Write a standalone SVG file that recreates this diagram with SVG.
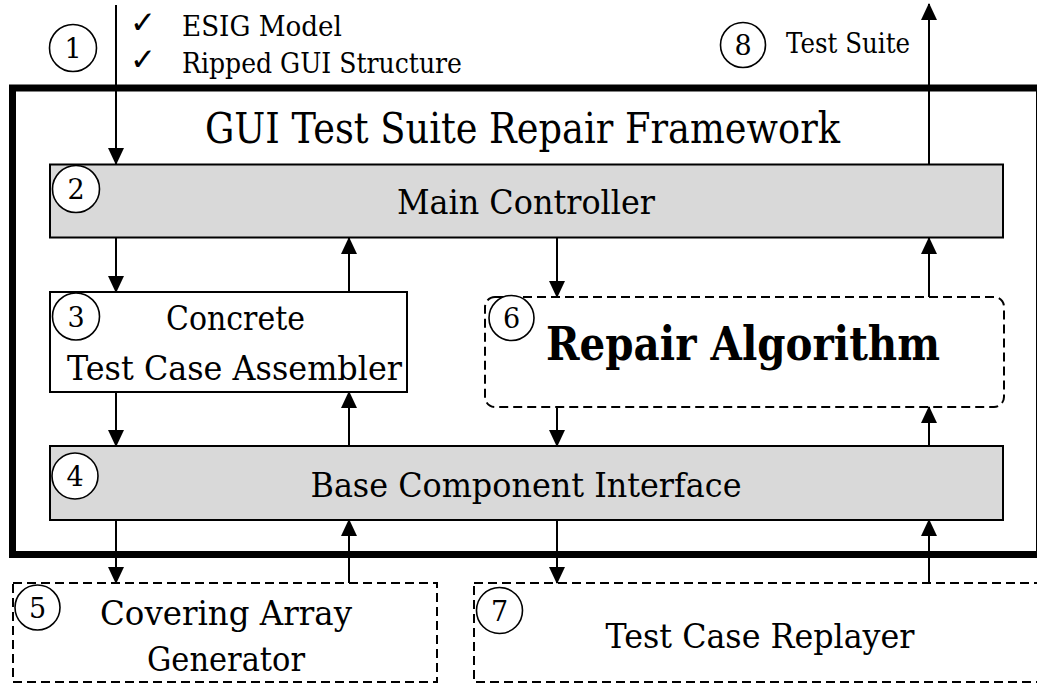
<svg xmlns="http://www.w3.org/2000/svg" width="1037" height="683" viewBox="0 0 1037 683">
<style>
text{font-family:"DejaVu Serif","Liberation Serif",serif}
.lbl{font-size:34px;text-anchor:middle}
.num{font-size:27px;text-anchor:middle}
.sm{font-size:28px}
.chk{font-family:"DejaVu Sans",sans-serif;font-size:31px}
.gray{fill:#d9d9d9;stroke:#000;stroke-width:2}
.plain{fill:#fff;stroke:#000;stroke-width:2}
.dash{fill:none;stroke:#000;stroke-width:2;stroke-dasharray:9 5}
.circ{fill:#fff;stroke:#000;stroke-width:1.6}
.conn line{stroke:#000;stroke-width:2;marker-end:url(#arr)}
</style>
<defs>
<marker id="arr" viewBox="0 0 17 16" refX="16" refY="8" markerWidth="17" markerHeight="16" markerUnits="userSpaceOnUse" orient="auto">
<path d="M0,0 L17,8 L0,16 Z" fill="#000"/>
</marker>
</defs>
<rect width="1037" height="683" fill="#fff"/>

<g id="frame">
<rect x="12.5" y="88" width="1027" height="466.5" fill="none" stroke="#000" stroke-width="7"/>
<text x="522.5" y="143" font-size="42" text-anchor="middle" textLength="635" lengthAdjust="spacingAndGlyphs">GUI Test Suite Repair Framework</text>
</g>

<g id="input">
<circle class="circ" cx="73" cy="48" r="23.5"/>
<text class="num" x="73" y="58">1</text>
<text class="chk" x="130" y="33">✓</text>
<text class="sm" x="182" y="36" textLength="160" lengthAdjust="spacingAndGlyphs">ESIG Model</text>
<text class="chk" x="130" y="70">✓</text>
<text class="sm" x="182" y="73" textLength="280" lengthAdjust="spacingAndGlyphs">Ripped GUI Structure</text>
</g>

<g id="output">
<circle class="circ" cx="743" cy="45" r="22.5"/>
<text class="num" x="743" y="55">8</text>
<text class="sm" x="786" y="53" textLength="124" lengthAdjust="spacingAndGlyphs">Test Suite</text>
</g>

<g id="main-controller">
<rect class="gray" x="50" y="164.5" width="953" height="73"/>
<circle class="circ" cx="76" cy="189" r="23.5"/>
<text class="num" x="76" y="199">2</text>
<text class="lbl" x="526" y="214" textLength="258" lengthAdjust="spacingAndGlyphs">Main Controller</text>
</g>

<g id="concrete-assembler">
<rect class="plain" x="50" y="292" width="357" height="100"/>
<circle class="circ" cx="76" cy="316.5" r="23.5"/>
<text class="num" x="76" y="326.5">3</text>
<text class="lbl" x="235.5" y="330" textLength="139" lengthAdjust="spacingAndGlyphs">Concrete</text>
<text class="lbl" x="234.5" y="380" textLength="335" lengthAdjust="spacingAndGlyphs">Test Case Assembler</text>
</g>

<g id="repair-algorithm">
<rect class="dash" x="485" y="297" width="519" height="110" rx="10" ry="10"/>
<circle class="circ" cx="511.5" cy="318" r="22.5"/>
<text class="num" x="511.5" y="328">6</text>
<text x="743" y="360" font-size="46" font-weight="bold" text-anchor="middle" textLength="394" lengthAdjust="spacingAndGlyphs">Repair Algorithm</text>
</g>

<g id="base-component">
<rect class="gray" x="50" y="446" width="953" height="74"/>
<circle class="circ" cx="75" cy="476" r="23"/>
<text class="num" x="75" y="486">4</text>
<text class="lbl" x="526" y="497" textLength="431" lengthAdjust="spacingAndGlyphs">Base Component Interface</text>
</g>

<g id="covering-array">
<rect class="dash" x="13" y="583" width="424" height="99"/>
<circle class="circ" cx="37.5" cy="607.5" r="22.5"/>
<text class="num" x="37.5" y="617.5">5</text>
<text class="lbl" x="226" y="625" textLength="252" lengthAdjust="spacingAndGlyphs">Covering Array</text>
<text class="lbl" x="226" y="671" textLength="158" lengthAdjust="spacingAndGlyphs">Generator</text>
</g>

<g id="replayer">
<rect class="dash" x="474" y="583" width="600" height="99"/>
<circle class="circ" cx="499.5" cy="610.5" r="23"/>
<text class="num" x="499.5" y="620.5">7</text>
<text class="lbl" x="760" y="648" textLength="309" lengthAdjust="spacingAndGlyphs">Test Case Replayer</text>
</g>

<g id="connectors" class="conn">
<line x1="116" y1="5" x2="116" y2="164"/>
<line x1="929" y1="164" x2="929" y2="4"/>
<line x1="116" y1="238" x2="116" y2="292"/>
<line x1="349" y1="292" x2="349" y2="238"/>
<line x1="557" y1="238" x2="557" y2="297"/>
<line x1="929" y1="297" x2="929" y2="238"/>
<line x1="116" y1="392" x2="116" y2="446"/>
<line x1="349" y1="446" x2="349" y2="392"/>
<line x1="557" y1="407" x2="557" y2="446"/>
<line x1="929" y1="446" x2="929" y2="407"/>
<line x1="116" y1="520" x2="116" y2="583"/>
<line x1="349" y1="583" x2="349" y2="520"/>
<line x1="557" y1="520" x2="557" y2="583"/>
<line x1="929" y1="583" x2="929" y2="520"/>
</g>
</svg>
